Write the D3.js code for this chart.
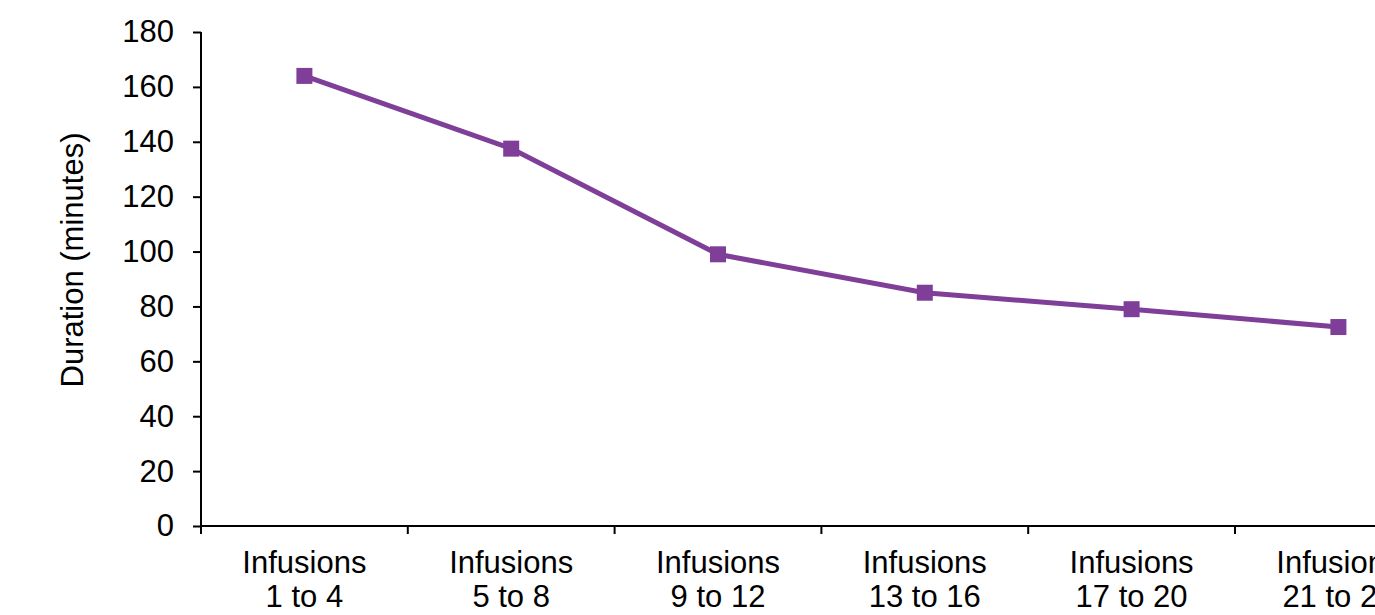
<!DOCTYPE html>
<html>
<head>
<meta charset="utf-8">
<script src="https://cdn.jsdelivr.net/npm/d3@7"></script>
<style>
  html, body { margin: 0; padding: 0; background: #fff; overflow: hidden; }
  svg { display: block; font-family: "Liberation Sans", Arial, sans-serif; }
</style>
</head>
<body>
<svg id="chart" width="1375" height="615"></svg>
<script>
// Average infusion duration by infusion group
const categories = [
  ["Infusions", "1 to 4"],
  ["Infusions", "5 to 8"],
  ["Infusions", "9 to 12"],
  ["Infusions", "13 to 16"],
  ["Infusions", "17 to 20"],
  ["Infusions", "21 to 24"]
];
const durations = [164, 137.5, 99, 85, 79, 72.5];
const yTicks = [0, 20, 40, 60, 80, 100, 120, 140, 160, 180];
const yLabel = "Duration (minutes)";

const svg = d3.select("#chart");
const plotLeft = 201, plotTop = 32, plotBottom = 526, band = 206.8;
const plotRight = plotLeft + band * categories.length;

const keys = categories.map((d, i) => i);
const x = d3.scaleBand().domain(keys).range([plotLeft, plotRight]);
const y = d3.scaleLinear().domain([0, 180]).range([plotBottom, plotTop]);

const color = "#7F3F98";
const fontSize = 31;

// Y axis
const yAxis = svg.append("g")
  .attr("transform", `translate(${plotLeft},0)`)
  .call(d3.axisLeft(y).tickValues(yTicks).tickSize(8).tickPadding(19).tickFormat(d3.format("d")));
yAxis.selectAll("path, line").attr("stroke", "#000").attr("stroke-width", 2);
yAxis.select(".domain").attr("d", `M0,${plotTop}H0V${plotBottom}`);
yAxis.selectAll("text").attr("font-size", fontSize).attr("fill", "#000")
  .attr("font-family", "'Liberation Sans', Arial, sans-serif");

// X axis: ticks at category boundaries
const xg = svg.append("g");
xg.append("line")
  .attr("x1", plotLeft).attr("x2", plotRight)
  .attr("y1", plotBottom).attr("y2", plotBottom)
  .attr("stroke", "#000").attr("stroke-width", 2);
const bounds = keys.map(k => x(k)).concat([plotRight]);
xg.selectAll("line.tick").data(bounds).enter().append("line")
  .attr("class", "tick")
  .attr("x1", d => d).attr("x2", d => d)
  .attr("y1", plotBottom).attr("y2", plotBottom + 8)
  .attr("stroke", "#000").attr("stroke-width", 2);
const labels = xg.selectAll("text").data(categories).enter().append("text")
  .attr("text-anchor", "middle")
  .attr("font-size", fontSize)
  .attr("fill", "#000")
  .attr("x", (d, i) => x(i) + x.bandwidth() / 2)
  .attr("y", plotBottom + 47);
labels.append("tspan").text(d => d[0]);
labels.append("tspan")
  .attr("x", (d, i) => x(i) + x.bandwidth() / 2)
  .attr("dy", 34)
  .text(d => d[1]);

// Y axis title
svg.append("text")
  .attr("transform", `translate(83,260) rotate(-90)`)
  .attr("text-anchor", "middle")
  .attr("font-size", fontSize)
  .attr("fill", "#000")
  .text(yLabel);

// Line and markers
const cx = i => x(i) + x.bandwidth() / 2;
const line = d3.line().x((d, i) => cx(i)).y(d => y(d));
svg.append("path")
  .datum(durations)
  .attr("d", line)
  .attr("fill", "none")
  .attr("stroke", color)
  .attr("stroke-width", 5);
const m = 16;
svg.selectAll("rect.marker").data(durations).enter().append("rect")
  .attr("class", "marker")
  .attr("x", (d, i) => cx(i) - m / 2)
  .attr("y", d => y(d) - m / 2)
  .attr("width", m).attr("height", m)
  .attr("fill", color);
</script>
</body>
</html>
